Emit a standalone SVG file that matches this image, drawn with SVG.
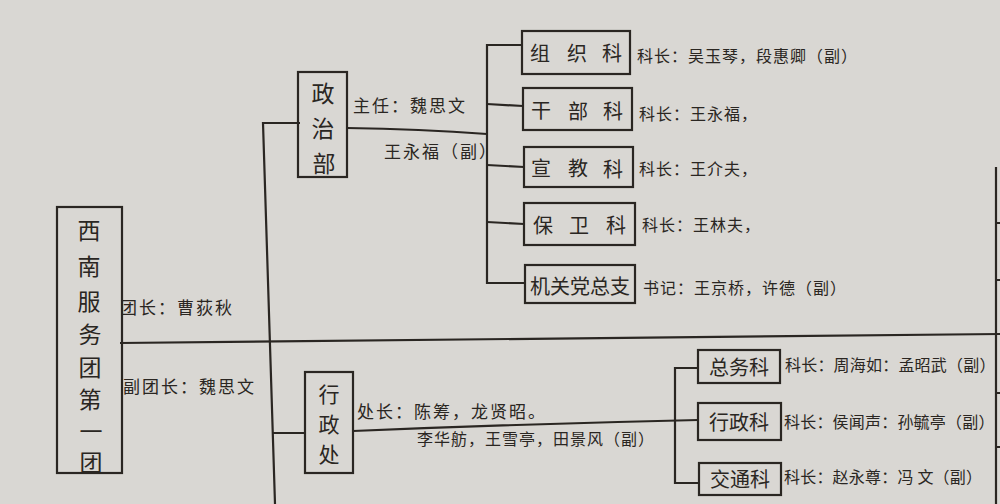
<svg xmlns="http://www.w3.org/2000/svg" width="1000" height="504" viewBox="0 0 1000 504">
<style>
.bx{fill:none;stroke:#2a2622;stroke-width:2.2}
.ln{fill:none;stroke:#2a2622;stroke-width:2.2}
text{font-family:"Noto Sans CJK SC","Liberation Serif",sans-serif;fill:#2a2622}
.big{font-size:23px;text-anchor:middle;dominant-baseline:central}
.mid{font-size:21px;text-anchor:middle;dominant-baseline:central}
.bt{font-size:20px;dominant-baseline:central}
.lb{font-size:16px;letter-spacing:1px;dominant-baseline:central}
.lr{font-size:16px;letter-spacing:0.2px;dominant-baseline:central}
.lm{font-size:17px;letter-spacing:2px;dominant-baseline:central}
</style>
<rect width="1000" height="504" fill="#d9d7d3"/>
<g id="connectors">
<path class="ln" d="M120 343 L1000 334"/>
<path class="ln" d="M300 123 L263 123 L275 504"/>
<path class="ln" d="M272 433 L305 433"/>
<path class="ln" d="M347 128 Q420 129 487 134"/>
<path class="ln" d="M521 45 L487 45 L487 283 L525 283"/>
<path class="ln" d="M487 104 L523 106"/>
<path class="ln" d="M487 165 L524 167"/>
<path class="ln" d="M487 222 L524 224"/>
<path class="ln" d="M353 431 Q520 424 698 420"/>
<path class="ln" d="M698 368 L675 368 L675 483 L699 483"/>
<path class="ln" d="M996 167 L996 504"/>
<path class="ln" d="M996 223 L1000 223 M996 280 L1000 280 M996 393 L1000 393 M996 447 L1000 447"/>
</g>
<g id="root">
<rect class="bx" x="57" y="207" width="65" height="266"/>
<text class="big" x="89" y="229">西</text>
<text class="big" x="89" y="265">南</text>
<text class="big" x="89" y="300">服</text>
<text class="big" x="90" y="333">务</text>
<text class="big" x="90" y="366">团</text>
<text class="big" x="90" y="398">第</text>
<text class="big" x="91" y="430">一</text>
<text class="big" x="91" y="461">团</text>
<text class="lm" x="120" y="306">团长：曹荻秋</text>
<text class="lm" x="123" y="385">副团长：魏思文</text>
</g>
<g id="zhengzhibu">
<rect class="bx" x="298" y="72" width="49" height="105"/>
<text class="big" x="323" y="92">政</text>
<text class="big" x="323" y="127">治</text>
<text class="big" x="324" y="162">部</text>
<text class="lm" x="353" y="104">主任：魏思文</text>
<text class="lm" x="384" y="150">王永福（副）</text>
</g>
<g id="zuzhike">
<rect class="bx" x="522" y="31" width="108" height="43"/>
<text class="bt" x="530" y="52">组</text>
<text class="bt" x="567" y="52">织</text>
<text class="bt" x="602" y="52">科</text>
<text class="lb" x="637" y="55">科长：吴玉琴，段惠卿（副）</text>
</g>
<g id="ganbuke">
<rect class="bx" x="523" y="88" width="109" height="42"/>
<text class="bt" x="531" y="109">干</text>
<text class="bt" x="568" y="110">部</text>
<text class="bt" x="603" y="110">科</text>
<text class="lb" x="639" y="113">科长：王永福，</text>
</g>
<g id="xuanjiaoke">
<rect class="bx" x="524" y="147" width="109" height="40"/>
<text class="bt" x="531" y="167">宣</text>
<text class="bt" x="568" y="167">教</text>
<text class="bt" x="603" y="168">科</text>
<text class="lb" x="639" y="168">科长：王介夫，</text>
</g>
<g id="baoweike">
<rect class="bx" x="524" y="203" width="111" height="42"/>
<text class="bt" x="533" y="224">保</text>
<text class="bt" x="569" y="224">卫</text>
<text class="bt" x="606" y="224">科</text>
<text class="lb" x="642" y="224">科长：王林夫，</text>
</g>
<g id="jiguan">
<rect class="bx" x="525" y="265" width="110" height="38"/>
<text class="bt" x="530" y="285">机关党总支</text>
<text class="lb" x="643" y="287">书记：王京桥，许德（副）</text>
</g>
<g id="xingzhengchu">
<rect class="bx" x="305" y="372" width="48" height="101"/>
<text class="mid" x="329" y="393">行</text>
<text class="mid" x="329" y="423">政</text>
<text class="mid" x="329" y="453">处</text>
<text class="lm" x="357" y="410">处长：陈筹，龙贤昭。</text>
<text class="lb" x="417" y="438">李华舫，王雪亭，田景风（副）</text>
</g>
<g id="zongwuke">
<rect class="bx" x="698" y="350" width="82" height="33"/>
<text class="bt" x="739" y="366" text-anchor="middle">总务科</text>
<text class="lr" x="785" y="364">科长：周海如：孟昭武（副）</text>
</g>
<g id="xingzhengke">
<rect class="bx" x="698" y="403" width="83" height="37"/>
<text class="bt" x="739" y="421" text-anchor="middle">行政科</text>
<text class="lr" x="784" y="421">科长：侯闻声：孙毓亭（副）</text>
</g>
<g id="jiaotongke">
<rect class="bx" x="699" y="463" width="82" height="32"/>
<text class="bt" x="740" y="478" text-anchor="middle">交通科</text>
<text class="lr" x="784" y="476">科长：赵永尊：冯 文（副）</text>
</g>
</svg>
